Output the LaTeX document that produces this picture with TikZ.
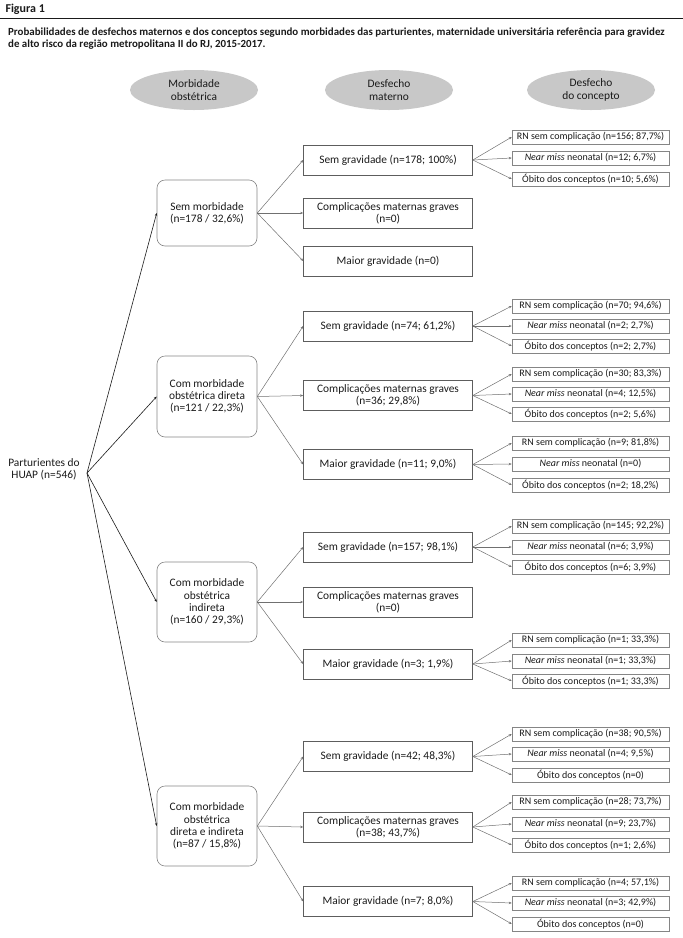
\documentclass[tikz,border=0pt]{standalone}
\usepackage{fontspec}
\setmainfont{Carlito}
\usepackage{tikz}
\usetikzlibrary{arrows.meta,shapes.geometric}
\definecolor{HeadGray}{HTML}{C8C8C8}
\definecolor{BoxLine}{HTML}{858585}
\definecolor{LinkGray}{HTML}{707070}
\definecolor{TextDark}{HTML}{1A1A1A}

\begin{document}
\begin{tikzpicture}[x=1pt,y=-1pt,
    every node/.style={font=\fontsize{11.4}{12.2}\selectfont, text=TextDark},
    colhead/.style={ellipse, fill=HeadGray, minimum width=128pt, minimum height=40pt, inner sep=0pt, align=center},
    morbbox/.style={draw=BoxLine, line width=0.6pt, rounded corners=8pt, minimum width=100pt, align=center},
    matbox/.style={draw=BoxLine!70!black, line width=0.6pt, minimum width=169pt, minimum height=30pt, align=center},
    outbox/.style={draw=BoxLine, line width=0.5pt, minimum width=157pt, minimum height=14pt, inner sep=0pt, font=\fontsize{10}{11}\selectfont},
    link/.style={draw=LinkGray, line width=0.5pt, -{Stealth[length=3pt,width=2.4pt]}},
    rootlink/.style={draw=TextDark, line width=0.6pt, -{Stealth[length=3pt,width=2.4pt]}}]
  \useasboundingbox (0,0) rectangle (683,938);

  \node[anchor=west, font=\bfseries\fontsize{12}{13}\selectfont] (fig) at (2,9) {Figura 1};
  \draw[line width=1pt, TextDark] (0,18.5) -- (683,18.5);
  \node[anchor=north west, align=left, inner sep=0pt, font=\bfseries\fontsize{10.9}{11.8}\selectfont] (cap) at (8,27.5)
    {Probabilidades de desfechos maternos e dos conceptos segundo morbidades das parturientes, maternidade universitária referência para gravidez\\
     de alto risco da região metropolitana II do RJ, 2015-2017.};

  \node[colhead] (h1) at (194,90) {Morbidade\\obstétrica};
  \node[colhead] (h2) at (389,90) {Desfecho\\materno};
  \node[colhead] (h3) at (591,90) {Desfecho\\do concepto};

  \node[align=center] (root) at (44,469) {Parturientes do\\HUAP (n=546)};
  \coordinate (hub) at (87,473);

  \node[morbbox, minimum height=66pt] (m1) at (207,213) {Sem morbidade\\(n=178 / 32,6\%)};
  \node[matbox] (m1a) at (388,160) {Sem gravidade (n=178; 100\%)};
  \node[matbox] (m1b) at (388,213) {Complicações maternas graves\\(n=0)};
  \node[matbox] (m1c) at (388,261) {Maior gravidade (n=0)};
  \node[outbox] (m1a1) at (590.5,137) {RN sem complicação (n=156; 87,7\%)};
  \node[outbox] (m1a2) at (590.5,158) {\textit{Near miss} neonatal (n=12; 6,7\%)};
  \node[outbox] (m1a3) at (590.5,179) {Óbito dos conceptos (n=10; 5,6\%)};

  \node[morbbox, minimum height=81pt] (m2) at (207,396.5) {Com morbidade\\obstétrica direta\\(n=121 / 22,3\%)};
  \node[matbox] (m2a) at (388,326) {Sem gravidade (n=74; 61,2\%)};
  \node[matbox] (m2b) at (388,395.5) {Complicações maternas graves\\(n=36; 29,8\%)};
  \node[matbox] (m2c) at (388,464.5) {Maior gravidade (n=11; 9,0\%)};
  \node[outbox] (m2a1) at (590.5,306) {RN sem complicação (n=70; 94,6\%)};
  \node[outbox] (m2a2) at (590.5,326) {\textit{Near miss} neonatal (n=2; 2,7\%)};
  \node[outbox] (m2a3) at (590.5,346) {Óbito dos conceptos (n=2; 2,7\%)};
  \node[outbox] (m2b1) at (590.5,374) {RN sem complicação (n=30; 83,3\%)};
  \node[outbox] (m2b2) at (590.5,394) {\textit{Near miss} neonatal (n=4; 12,5\%)};
  \node[outbox] (m2b3) at (590.5,414) {Óbito dos conceptos (n=2; 5,6\%)};
  \node[outbox] (m2c1) at (590.5,443) {RN sem complicação (n=9; 81,8\%)};
  \node[outbox] (m2c2) at (590.5,464) {\textit{Near miss} neonatal (n=0)};
  \node[outbox] (m2c3) at (590.5,485) {Óbito dos conceptos (n=2; 18,2\%)};

  \node[morbbox, minimum height=80pt] (m3) at (207,602) {Com morbidade\\obstétrica\\indireta\\(n=160 / 29,3\%)};
  \node[matbox] (m3a) at (388,547) {Sem gravidade (n=157; 98,1\%)};
  \node[matbox] (m3b) at (388,602) {Complicações maternas graves\\(n=0)};
  \node[matbox] (m3c) at (388,664) {Maior gravidade (n=3; 1,9\%)};
  \node[outbox] (m3a1) at (590.5,526) {RN sem complicação (n=145; 92,2\%)};
  \node[outbox] (m3a2) at (590.5,547) {\textit{Near miss} neonatal (n=6; 3,9\%)};
  \node[outbox] (m3a3) at (590.5,567) {Óbito dos conceptos (n=6; 3,9\%)};
  \node[outbox] (m3c1) at (590.5,640) {RN sem complicação (n=1; 33,3\%)};
  \node[outbox] (m3c2) at (590.5,661) {\textit{Near miss} neonatal (n=1; 33,3\%)};
  \node[outbox] (m3c3) at (590.5,681) {Óbito dos conceptos (n=1; 33,3\%)};

  \node[morbbox, minimum height=80pt] (m4) at (207,826) {Com morbidade\\obstétrica\\direta e indireta\\(n=87 / 15,8\%)};
  \node[matbox] (m4a) at (388,756.5) {Sem gravidade (n=42; 48,3\%)};
  \node[matbox] (m4b) at (388,827) {Complicações maternas graves\\(n=38; 43,7\%)};
  \node[matbox] (m4c) at (388,901.5) {Maior gravidade (n=7; 8,0\%)};
  \node[outbox] (m4a1) at (590.5,734) {RN sem complicação (n=38; 90,5\%)};
  \node[outbox] (m4a2) at (590.5,754) {\textit{Near miss} neonatal (n=4; 9,5\%)};
  \node[outbox] (m4a3) at (590.5,775) {Óbito dos conceptos (n=0)};
  \node[outbox] (m4b1) at (590.5,802) {RN sem complicação (n=28; 73,7\%)};
  \node[outbox] (m4b2) at (590.5,824) {\textit{Near miss} neonatal (n=9; 23,7\%)};
  \node[outbox] (m4b3) at (590.5,845) {Óbito dos conceptos (n=1; 2,6\%)};
  \node[outbox] (m4c1) at (590.5,883) {RN sem complicação (n=4; 57,1\%)};
  \node[outbox] (m4c2) at (590.5,903) {\textit{Near miss} neonatal (n=3; 42,9\%)};
  \node[outbox] (m4c3) at (590.5,924) {Óbito dos conceptos (n=0)};

  \path (hub) edge[rootlink] (m1.west) edge[rootlink] (m2.west)
              edge[rootlink] (m3.west) edge[rootlink] (m4.west);
  \path (m1.east) edge[link] (m1a.west) edge[link] (m1b.west) edge[link] (m1c.west);
  \path (m2.east) edge[link] (m2a.west) edge[link] (m2b.west) edge[link] (m2c.west);
  \path (m3.east) edge[link] (m3a.west) edge[link] (m3b.west) edge[link] (m3c.west);
  \path (m4.east) edge[link] (m4a.west) edge[link] (m4b.west) edge[link] (m4c.west);
  \path (m1a.east) edge[link] (m1a1.west) edge[link] (m1a2.west) edge[link] (m1a3.west);
  \path (m2a.east) edge[link] (m2a1.west) edge[link] (m2a2.west) edge[link] (m2a3.west);
  \path (m2b.east) edge[link] (m2b1.west) edge[link] (m2b2.west) edge[link] (m2b3.west);
  \path (m2c.east) edge[link] (m2c1.west) edge[link] (m2c2.west) edge[link] (m2c3.west);
  \path (m3a.east) edge[link] (m3a1.west) edge[link] (m3a2.west) edge[link] (m3a3.west);
  \path (m3c.east) edge[link] (m3c1.west) edge[link] (m3c2.west) edge[link] (m3c3.west);
  \path (m4a.east) edge[link] (m4a1.west) edge[link] (m4a2.west) edge[link] (m4a3.west);
  \path (m4b.east) edge[link] (m4b1.west) edge[link] (m4b2.west) edge[link] (m4b3.west);
  \path (m4c.east) edge[link] (m4c1.west) edge[link] (m4c2.west) edge[link] (m4c3.west);
\end{tikzpicture}
\end{document}
